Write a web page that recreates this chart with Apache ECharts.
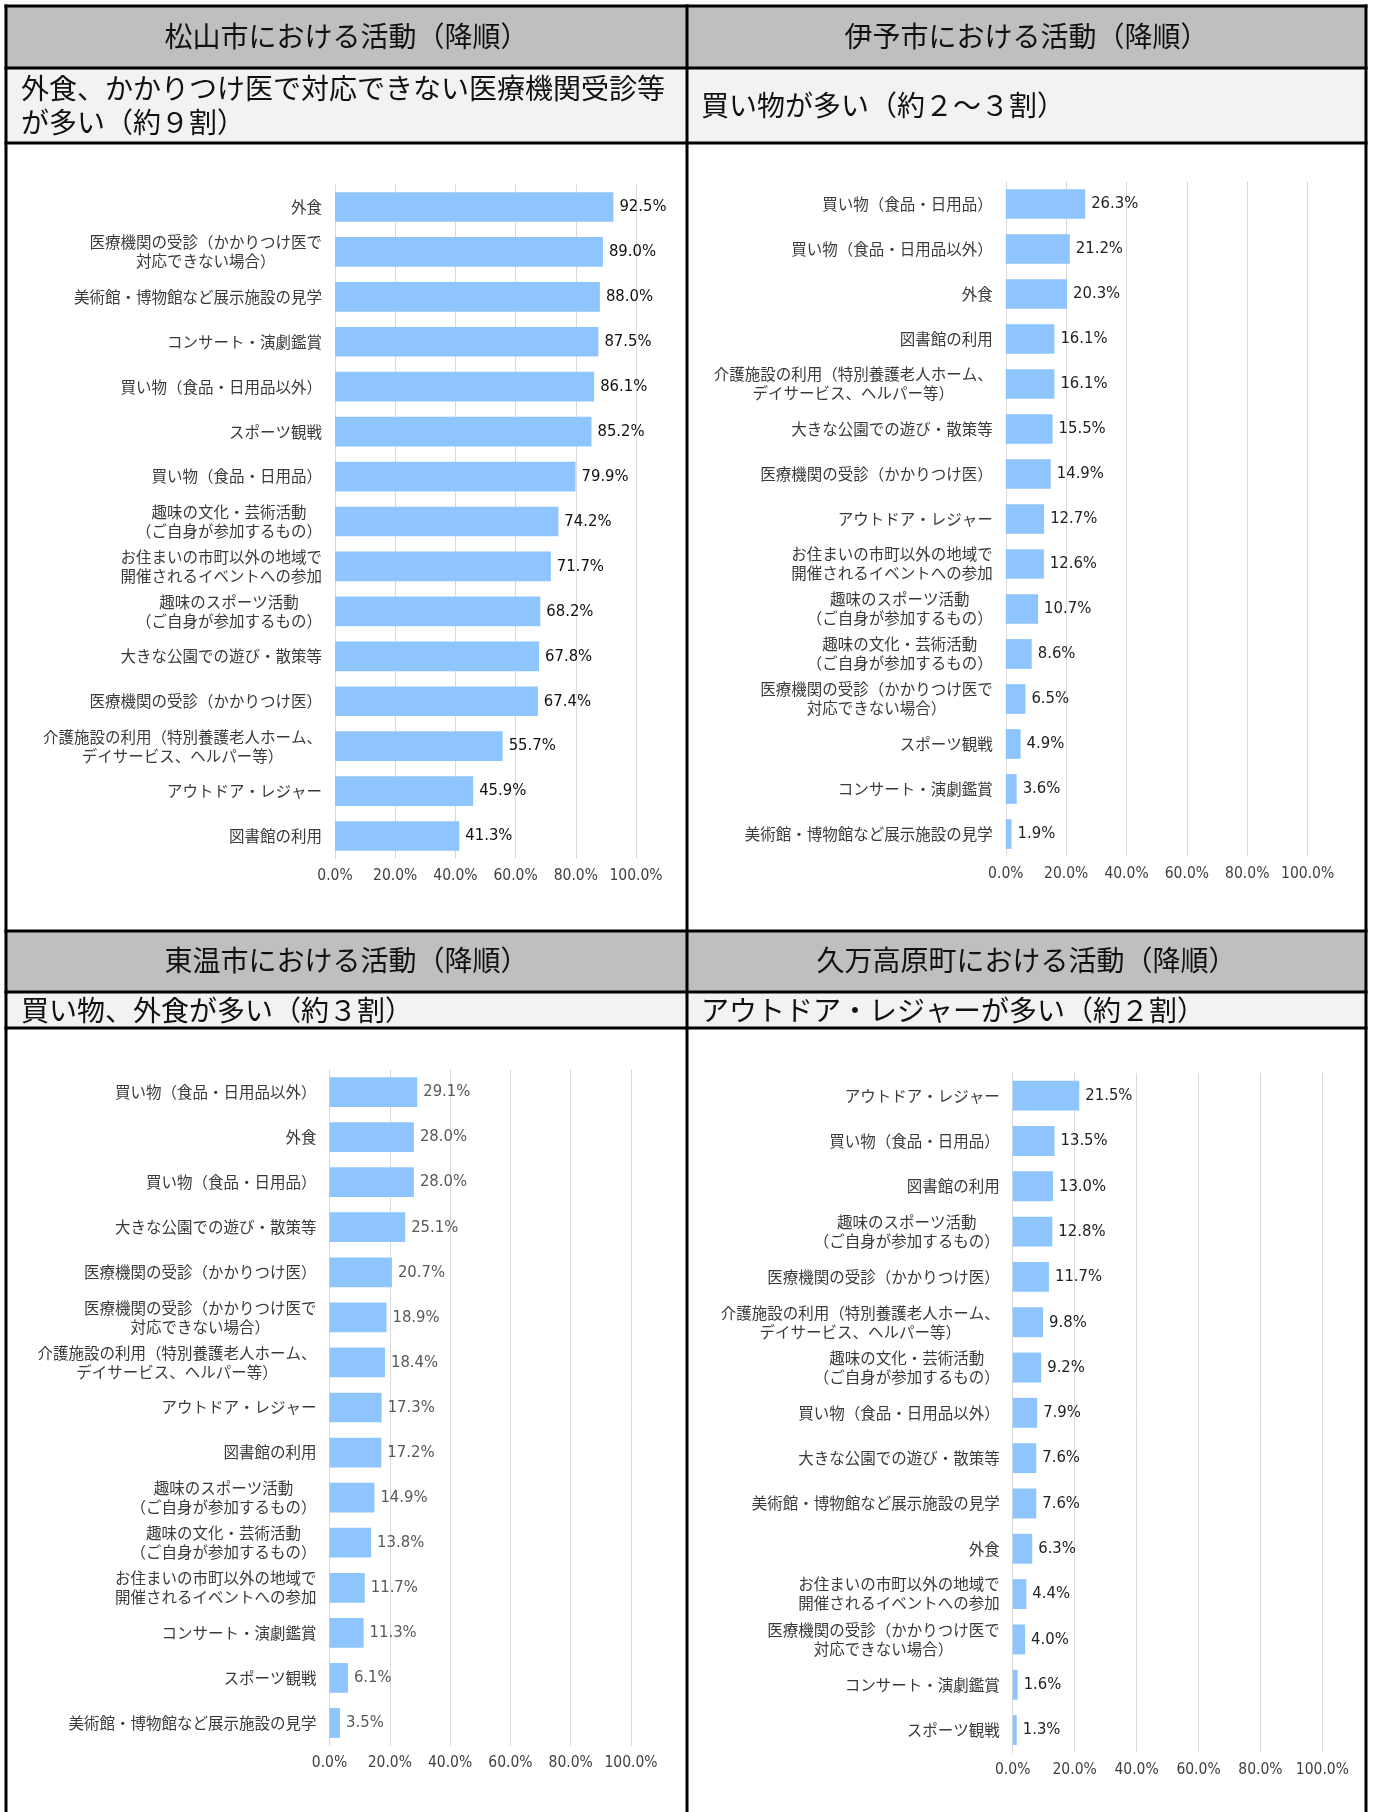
<!DOCTYPE html>
<html><head><meta charset="utf-8">
<script src="https://cdn.jsdelivr.net/npm/echarts@6/dist/echarts.min.js"></script>
<style>html,body{margin:0;padding:0;background:#fff}#c{width:1373px;height:1812px}</style>
</head><body><div id="c"></div>
<script>
// ---- data ----
const titles = ['松山市における活動（降順）', '伊予市における活動（降順）', '東温市における活動（降順）', '久万高原町における活動（降順）'];
const subtitles = ['外食、かかりつけ医で対応できない医療機関受診等\nが多い（約９割）', '買い物が多い（約２～３割）', '買い物、外食が多い（約３割）', 'アウトドア・レジャーが多い（約２割）'];
const xTicks = [0, 20, 40, 60, 80, 100];

const catsMatsuyama = ['外食', '医療機関の受診（かかりつけ医で\n対応できない場合）', '美術館・博物館など展示施設の見学', 'コンサート・演劇鑑賞', '買い物（食品・日用品以外）', 'スポーツ観戦', '買い物（食品・日用品）', '趣味の文化・芸術活動\n（ご自身が参加するもの）', 'お住まいの市町以外の地域で\n開催されるイベントへの参加', '趣味のスポーツ活動\n（ご自身が参加するもの）', '大きな公園での遊び・散策等', '医療機関の受診（かかりつけ医）', '介護施設の利用（特別養護老人ホーム、\nデイサービス、ヘルパー等）', 'アウトドア・レジャー', '図書館の利用'];
const valsMatsuyama = [92.5, 89.0, 88.0, 87.5, 86.1, 85.2, 79.9, 74.2, 71.7, 68.2, 67.8, 67.4, 55.7, 45.9, 41.3];

const catsIyo = ['買い物（食品・日用品）', '買い物（食品・日用品以外）', '外食', '図書館の利用', '介護施設の利用（特別養護老人ホーム、\nデイサービス、ヘルパー等）', '大きな公園での遊び・散策等', '医療機関の受診（かかりつけ医）', 'アウトドア・レジャー', 'お住まいの市町以外の地域で\n開催されるイベントへの参加', '趣味のスポーツ活動\n（ご自身が参加するもの）', '趣味の文化・芸術活動\n（ご自身が参加するもの）', '医療機関の受診（かかりつけ医で\n対応できない場合）', 'スポーツ観戦', 'コンサート・演劇鑑賞', '美術館・博物館など展示施設の見学'];
const valsIyo = [26.3, 21.2, 20.3, 16.1, 16.1, 15.5, 14.9, 12.7, 12.6, 10.7, 8.6, 6.5, 4.9, 3.6, 1.9];

const catsToon = ['買い物（食品・日用品以外）', '外食', '買い物（食品・日用品）', '大きな公園での遊び・散策等', '医療機関の受診（かかりつけ医）', '医療機関の受診（かかりつけ医で\n対応できない場合）', '介護施設の利用（特別養護老人ホーム、\nデイサービス、ヘルパー等）', 'アウトドア・レジャー', '図書館の利用', '趣味のスポーツ活動\n（ご自身が参加するもの）', '趣味の文化・芸術活動\n（ご自身が参加するもの）', 'お住まいの市町以外の地域で\n開催されるイベントへの参加', 'コンサート・演劇鑑賞', 'スポーツ観戦', '美術館・博物館など展示施設の見学'];
const valsToon = [29.1, 28.0, 28.0, 25.1, 20.7, 18.9, 18.4, 17.3, 17.2, 14.9, 13.8, 11.7, 11.3, 6.1, 3.5];

const catsKuma = ['アウトドア・レジャー', '買い物（食品・日用品）', '図書館の利用', '趣味のスポーツ活動\n（ご自身が参加するもの）', '医療機関の受診（かかりつけ医）', '介護施設の利用（特別養護老人ホーム、\nデイサービス、ヘルパー等）', '趣味の文化・芸術活動\n（ご自身が参加するもの）', '買い物（食品・日用品以外）', '大きな公園での遊び・散策等', '美術館・博物館など展示施設の見学', '外食', 'お住まいの市町以外の地域で\n開催されるイベントへの参加', '医療機関の受診（かかりつけ医で\n対応できない場合）', 'コンサート・演劇鑑賞', 'スポーツ観戦'];
const valsKuma = [21.5, 13.5, 13.0, 12.8, 11.7, 9.8, 9.2, 7.9, 7.6, 7.6, 6.3, 4.4, 4.0, 1.6, 1.3];

// ---- layout / style ----
const JP = "'Noto Sans CJK JP', 'Noto Sans', sans-serif";
const NUM = "'Liberation Sans Narrow', 'DejaVu Sans Condensed', 'Noto Sans Mono CJK JP', sans-serif";
const BAR = '#8EC5FF';
const GRID_LINE = '#d9d9d9';

const panels = [
  {cats: catsMatsuyama, vals: valsMatsuyama, grid: {left: 335, top: 184.5, width: 301, height: 674}, valColor: '#111'},
  {cats: catsIyo, vals: valsIyo, grid: {left: 1005.8, top: 181.5, width: 301.8, height: 675}, valColor: '#222'},
  {cats: catsToon, vals: valsToon, grid: {left: 329.5, top: 1069.5, width: 301.5, height: 676}, valColor: '#595959'},
  {cats: catsKuma, vals: valsKuma, grid: {left: 1012.7, top: 1073, width: 309.7, height: 679.7}, valColor: '#222'}
];

const grids = [], xAxes = [], yAxes = [], series = [];
panels.forEach((p, i) => {
  grids.push(Object.assign({containLabel: false, outerBoundsMode: 'none'}, p.grid));
  xAxes.push({
    gridIndex: i, type: 'value', min: xTicks[0], max: xTicks[xTicks.length - 1], interval: xTicks[1] - xTicks[0],
    axisLine: {show: false}, axisTick: {show: false},
    splitLine: {show: true, lineStyle: {color: GRID_LINE, width: 1}},
    axisLabel: {formatter: v => v.toFixed(1) + '%', margin: 10, fontSize: 15.5, color: '#404040', fontFamily: NUM}
  });
  yAxes.push({
    gridIndex: i, type: 'category', inverse: true, data: p.cats,
    axisTick: {show: false},
    axisLine: {show: true, lineStyle: {color: GRID_LINE, width: 1}},
    axisLabel: {
      interval: 0, margin: 13, align: 'right',
      formatter: v => v.split('\n').map(s => '{c|' + s + '}').join('\n'),
      rich: {c: {align: 'center', fontSize: 15.5, lineHeight: 19, color: '#3a3a3a', fontFamily: JP}}
    }
  });
  series.push({
    type: 'bar', xAxisIndex: i, yAxisIndex: i, data: p.vals, barCategoryGap: '34%',
    itemStyle: {color: BAR}, silent: true,
    label: {show: true, position: 'right', distance: 6, formatter: q => q.value.toFixed(1) + '%',
      fontSize: 16.5, color: p.valColor, fontFamily: NUM}
  });
});

// table frame
const L = 6, R = 1366, MID = 687, T = 6, B = 1812;
const rows = {h1: [6, 68], s1: [68, 143], h2: [931, 992], s2: [992, 1028]};
const g = [];
g.push({type: 'rect', shape: {x: L, y: rows.h1[0], width: R - L, height: rows.h1[1] - rows.h1[0]}, style: {fill: '#bfbfbf'}, z: 0});
g.push({type: 'rect', shape: {x: L, y: rows.s1[0], width: R - L, height: rows.s1[1] - rows.s1[0]}, style: {fill: '#f2f2f2'}, z: 0});
g.push({type: 'rect', shape: {x: L, y: rows.h2[0], width: R - L, height: rows.h2[1] - rows.h2[0]}, style: {fill: '#bfbfbf'}, z: 0});
g.push({type: 'rect', shape: {x: L, y: rows.s2[0], width: R - L, height: rows.s2[1] - rows.s2[0]}, style: {fill: '#f2f2f2'}, z: 0});
[rows.h1[0], rows.h1[1], rows.s1[1], rows.h2[0], rows.h2[1], rows.s2[1]].forEach(y => {
  g.push({type: 'line', shape: {x1: L - 1.5, y1: y, x2: R + 1.5, y2: y}, style: {stroke: '#000', lineWidth: 3}, z: 10});
});
[L, MID, R].forEach(x => {
  g.push({type: 'line', shape: {x1: x, y1: T - 1.5, x2: x, y2: B}, style: {stroke: '#000', lineWidth: 3}, z: 10});
});
const cx = [(L + MID) / 2, (MID + R) / 2];
const tPos = [[cx[0], 36], [cx[1], 36], [cx[0], 960.5], [cx[1], 960.5]];
titles.forEach((t, i) => {
  g.push({type: 'text', z: 11, style: {text: t, x: tPos[i][0], y: tPos[i][1], align: 'center', verticalAlign: 'middle', textAlign: 'center', textVerticalAlign: 'middle', fontSize: 28, fontFamily: JP, fill: '#111'}});
});
const sPos = [[21, 105.5], [701, 105.5], [21, 1010], [701, 1010]];
subtitles.forEach((t, i) => {
  g.push({type: 'text', z: 11, style: {text: t, x: sPos[i][0], y: sPos[i][1], align: 'left', verticalAlign: 'middle', textAlign: 'left', textVerticalAlign: 'middle', fontSize: 28, lineHeight: 33.5, fontFamily: JP, fill: '#111'}});
});

const chart = echarts.init(document.getElementById('c'), null, {renderer: 'canvas'});
chart.setOption({
  animation: false,
  backgroundColor: '#fff',
  grid: grids, xAxis: xAxes, yAxis: yAxes, series: series,
  graphic: {elements: g}
});
</script>
</body></html>
